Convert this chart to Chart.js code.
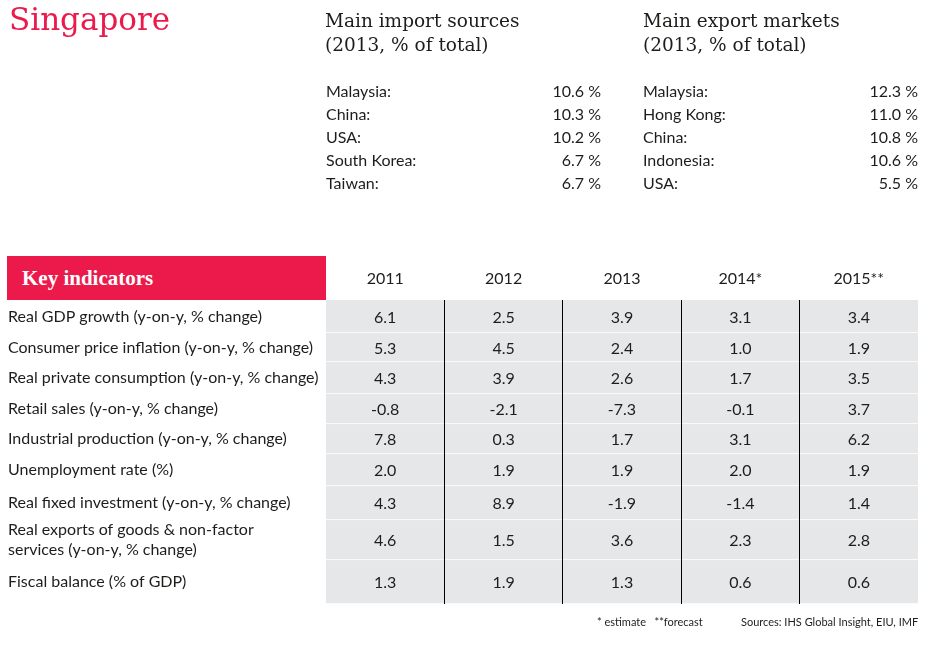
<!DOCTYPE html>
<html><head><meta charset="utf-8">
<script src="https://cdn.jsdelivr.net/npm/chart.js@4.4.0/dist/chart.umd.min.js"></script>
<style>
html,body{margin:0;padding:0;background:#fff;}
#wrap{position:relative;width:934px;height:647px;overflow:hidden;font-family:Lato,"Open Sans",sans-serif;color:#1d1d1b;}
#c{position:absolute;left:0;top:0;}
.title{position:absolute;left:9px;top:0px;font:31px/38px "DejaVu Serif",serif;color:#ec1a4b;}
.hd{position:absolute;top:9px;font:18.5px/24px "DejaVu Serif",serif;color:#1d1d1b;}
.list{position:absolute;top:79px;font-size:16px;line-height:23px;}
.list div{display:flex;justify-content:space-between;}
.key{position:absolute;left:7px;top:256px;width:319px;height:44px;background:#ec1a4b;color:#fff;font:bold 21px/44px "Liberation Serif",serif;padding-left:15px;box-sizing:border-box;z-index:2;}
.foot{position:absolute;top:615px;font-size:11px;line-height:14px;}
</style>
</head><body>
<div id="wrap">
  <canvas id="c" width="934" height="647"></canvas>
  <div class="title">Singapore</div>
  <div class="hd" style="left:325px">Main import sources<br>(2013, % of total)</div>
  <div class="hd" style="left:643px">Main export markets<br>(2013, % of total)</div>
  <div class="list" id="imp" style="left:326px;width:275px"></div>
  <div class="list" id="exp" style="left:643px;width:275px"></div>
  <div class="key">Key indicators</div>
  <div class="foot" style="left:597px">* estimate&nbsp;&nbsp;&nbsp;**forecast</div>
  <div class="foot" style="left:741px">Sources: IHS Global Insight, EIU, IMF</div>
</div>
<script>
// ---- data ----
const importCountries = ['Malaysia', 'China', 'USA', 'South Korea', 'Taiwan'];
const importShares = [10.6, 10.3, 10.2, 6.7, 6.7];
const exportCountries = ['Malaysia', 'Hong Kong', 'China', 'Indonesia', 'USA'];
const exportShares = [12.3, 11.0, 10.8, 10.6, 5.5];

const years = ['2011', '2012', '2013', '2014*', '2015**'];
const indicators = [
  'Real GDP growth (y-on-y, % change)',
  'Consumer price inflation (y-on-y, % change)',
  'Real private consumption (y-on-y, % change)',
  'Retail sales (y-on-y, % change)',
  'Industrial production (y-on-y, % change)',
  'Unemployment rate (%)',
  'Real fixed investment (y-on-y, % change)',
  ['Real exports of goods & non-factor', 'services (y-on-y, % change)'],
  'Fiscal balance (% of GDP)'
];
const v2011 = [6.1, 5.3, 4.3, -0.8, 7.8, 2.0, 4.3, 4.6, 1.3];
const v2012 = [2.5, 4.5, 3.9, -2.1, 0.3, 1.9, 8.9, 1.5, 1.9];
const v2013 = [3.9, 2.4, 2.6, -7.3, 1.7, 1.9, -1.9, 3.6, 1.3];
const v2014 = [3.1, 1.0, 1.7, -0.1, 3.1, 2.0, -1.4, 2.3, 0.6];
const v2015 = [3.4, 1.9, 3.5, 3.7, 6.2, 1.9, 1.4, 2.8, 0.6];
const yearValues = [v2011, v2012, v2013, v2014, v2015];

// ---- layout (relative row heights of the table) ----
const ROW_SPANS = [33, 29, 32, 30, 30, 32, 34, 40, 44];
const rowStart = [];
let acc = 0;
ROW_SPANS.forEach(s => { rowStart.push(acc); acc += s; });
const TOTAL = acc;
const rowCenter = ROW_SPANS.map((s, i) => rowStart[i] + s / 2);

// ---- lists ----
function fillList(id, names, vals) {
  const el = document.getElementById(id);
  names.forEach((n, i) => {
    const d = document.createElement('div');
    const a = document.createElement('span'); a.textContent = n + ':';
    const b = document.createElement('span'); b.textContent = vals[i].toFixed(1) + ' %';
    d.appendChild(a); d.appendChild(b); el.appendChild(d);
  });
}
fillList('imp', importCountries, importShares);
fillList('exp', exportCountries, exportShares);

// ---- table via Chart.js ----
const TEXT = '#1d1d1b';
const cellText = {
  id: 'cellText',
  afterDatasetsDraw(chart) {
    const {ctx, scales: {x, y}} = chart;
    ctx.save();
    ctx.font = '16px Lato, "Open Sans", sans-serif';
    ctx.fillStyle = TEXT;
    ctx.textAlign = 'center';
    ctx.textBaseline = 'middle';
    yearValues.forEach((vals, c) => {
      const px = x.getPixelForTick(c);
      vals.forEach((v, r) => {
        ctx.fillText(v.toFixed(1), px, y.getPixelForValue(rowCenter[r]) + 1);
      });
    });
    ctx.restore();
  }
};

const datasets = indicators.map((lab, r) => ({
  label: Array.isArray(lab) ? lab.join(' ') : lab,
  data: years.map(() => [rowStart[r], rowStart[r] + ROW_SPANS[r]]),
  backgroundColor: '#e6e7e8',
  borderColor: '#ffffff',
  borderWidth: {top: 0, left: 0, right: 0, bottom: 1},
  borderSkipped: false,
  grouped: false,
  categoryPercentage: 1,
  barPercentage: 1
}));

new Chart(document.getElementById('c'), {
  type: 'bar',
  data: {labels: years, datasets},
  options: {
    responsive: false,
    animation: false,
    devicePixelRatio: 1,
    layout: {padding: {left: 8, top: 0, right: 16, bottom: 43}},
    plugins: {legend: {display: false}, tooltip: {enabled: false}},
    scales: {
      x: {
        type: 'category',
        position: 'top',
        offset: true,
        grid: {
          offset: true, z: 1, drawTicks: false, lineWidth: 1,
          color: ctx => (ctx.type === 'tick' && ctx.index > 0) ? '#000000' : 'rgba(0,0,0,0)'
        },
        border: {display: false},
        ticks: {padding: 12, color: TEXT, font: {family: 'Lato', size: 16}},
        afterFit: s => { s.height = 300; }
      },
      y: {
        type: 'linear',
        position: 'left',
        reverse: true,
        min: 0,
        max: TOTAL,
        grid: {display: false},
        border: {display: false},
        afterBuildTicks: s => { s.ticks = rowCenter.map(v => ({value: v})); },
        ticks: {
          autoSkip: false,
          crossAlign: 'far',
          padding: 0,
          color: TEXT,
          font: {family: 'Lato', size: 16, lineHeight: 1.25},
          callback: (v, i) => indicators[i]
        },
        afterFit: s => { s.width = 318; }
      }
    }
  },
  plugins: [cellText]
});
</script>
</body></html>
